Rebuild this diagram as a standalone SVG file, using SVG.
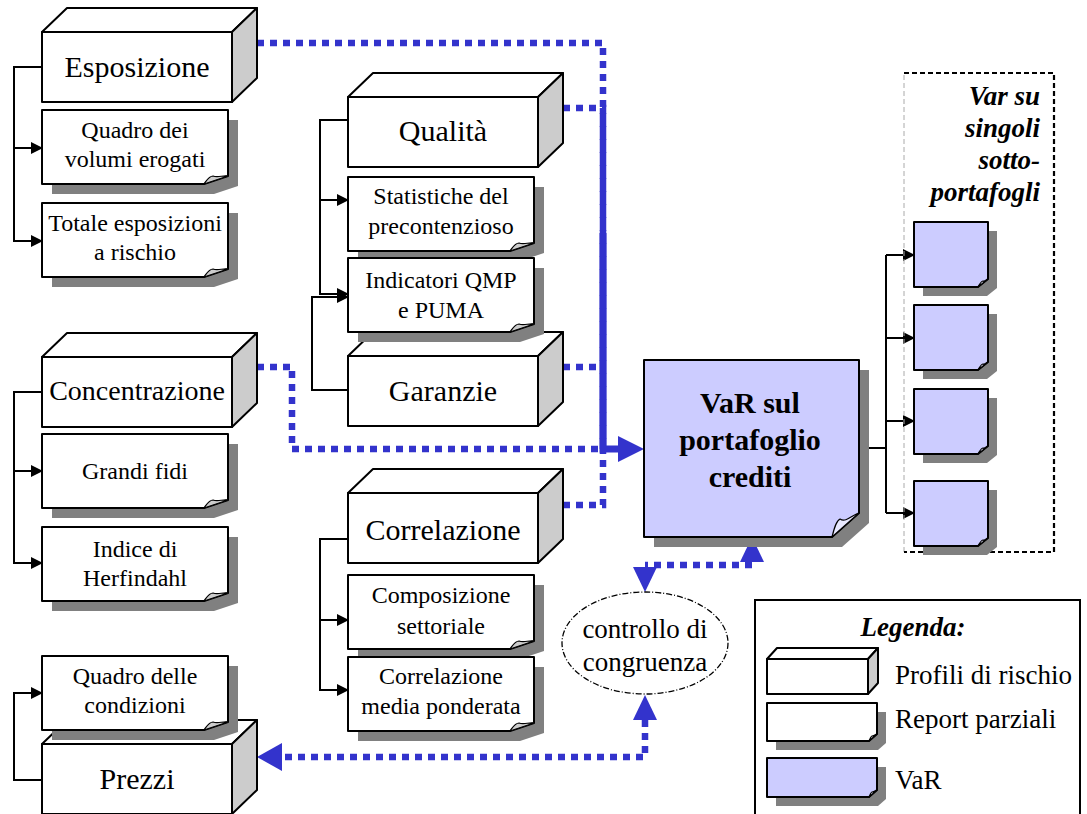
<svg xmlns="http://www.w3.org/2000/svg" width="1087" height="814" viewBox="0 0 1087 814">
  <style>
    text { font-family: "Liberation Serif", "Times New Roman", serif; fill: #000; }
    .h { font-size: 30px; text-anchor: middle; }
    .s { font-size: 24px; text-anchor: middle; }
    .m { font-size: 27px; }
    .bi { font-weight: bold; font-style: italic; }
    .front { fill: #fff; stroke: #000; stroke-width: 2; stroke-linejoin: round; }
    .side { fill: #ccc; stroke: #000; stroke-width: 2; stroke-linejoin: round; }
    .shadow { fill: #808080; }
    .curl { fill: #ccc; stroke: #000; stroke-width: 1.2; stroke-linejoin: round; }
    .var { fill: #ccccff; stroke: #000; stroke-width: 2; stroke-linejoin: round; }
    .varcurl { fill: #e8e8ff; stroke: #000; stroke-width: 1.2; stroke-linejoin: round; }
    .tree { fill: none; stroke: #000; stroke-width: 2; }
    .dot { fill: none; stroke: #3333cc; stroke-width: 6.5; stroke-dasharray: 7 6; }
    .solid { fill: none; stroke: #3333cc; stroke-width: 7; }
    .bhead { fill: #3333cc; }
  </style>
  <defs>
    <marker id="ah" markerWidth="12" markerHeight="12" refX="11" refY="6" orient="auto" markerUnits="userSpaceOnUse">
      <path d="M0,0 L12,6 L0,12 Z" fill="#000"/>
    </marker>
    <!-- risk profile block: front 190x70, depth 25 -->
    <g id="cube">
      <path class="front" d="M0,0 L25,-24 L215,-24 L190,0 Z"/>
      <path class="side" d="M190,0 L215,-24 L215,46 L190,70 Z"/>
      <rect class="front" x="0" y="0" width="190" height="70"/>
    </g>
    <!-- partial report: 186x74 sheet with curled corner and drop shadow -->
    <g id="doc">
      <path class="shadow" d="M10,10 H196 V76 L172,84 H10 Z"/>
      <path class="front" d="M0,0 H186 V66 L162,74 H0 Z"/>
      <path class="curl" d="M162,74 C165,70 167,66 171,66 C176,68 181,65 186,66 Z"/>
    </g>
    <!-- sub-portfolio VaR sheet -->
    <g id="vdoc">
      <path class="shadow" d="M9,9 H83 V66 L73,74 H9 Z"/>
      <path class="var" d="M0,0 H74 V57 L64,65 H0 Z"/>
      <path class="varcurl" d="M64,65 C66,62 67,59 69,59 C71,60 72,58 74,57 Z"/>
    </g>
  </defs>

  <rect width="1087" height="814" fill="#fff"/>

  <!-- blue data flows -->
  <g id="connectors">
    <path class="dot" d="M257,43 H603 V449"/>
    <path class="dot" d="M563,108 H603 V449"/>
    <path class="dot" d="M563,367 H603"/>
    <path class="dot" d="M257,367 H292 V449 H603"/>
    <path class="dot" d="M563,505 H603 V452"/>
    <path class="solid" d="M603,233 V449 H620"/>
    <polygon class="bhead" points="618,436 644,449 618,462"/>

    <path class="dot" d="M752,565 H645"/>
    <polygon class="bhead" points="740,562 752,537 764,562"/>
    <polygon class="bhead" points="633,567 645,592 657,567"/>

    <path class="dot" d="M645,720 V757 H282"/>
    <polygon class="bhead" points="633,720 645,695 657,720"/>
    <polygon class="bhead" points="282,743 257,757 282,771"/>

    <!-- hierarchy lines -->
    <path class="tree" d="M42,67 H14 V241 H42" marker-end="url(#ah)"/>
    <path class="tree" d="M14,148 H42" marker-end="url(#ah)"/>
    <path class="tree" d="M42,392 H14 V563 H42" marker-end="url(#ah)"/>
    <path class="tree" d="M14,471 H42" marker-end="url(#ah)"/>
    <path class="tree" d="M348,120 H320 V294 H348" marker-end="url(#ah)"/>
    <path class="tree" d="M320,200 H348" marker-end="url(#ah)"/>
    <path class="tree" d="M348,390 H312 V297 H348" marker-end="url(#ah)"/>
    <path class="tree" d="M348,539 H320 V690 H348" marker-end="url(#ah)"/>
    <path class="tree" d="M320,620 H348" marker-end="url(#ah)"/>
    <path class="tree" d="M42,780 H14 V693 H42" marker-end="url(#ah)"/>
    <path class="tree" d="M859,448 H886"/>
    <path class="tree" d="M886,255 V513"/>
    <path class="tree" d="M886,255 H914" marker-end="url(#ah)"/>
    <path class="tree" d="M886,338 H914" marker-end="url(#ah)"/>
    <path class="tree" d="M886,421 H914" marker-end="url(#ah)"/>
    <path class="tree" d="M886,513 H914" marker-end="url(#ah)"/>
  </g>

  <!-- Esposizione -->
  <g id="esposizione">
    <use href="#cube" x="42" y="32"/>
    <text class="h" x="137" y="77">Esposizione</text>
  </g>
  <g id="quadro-volumi">
    <use href="#doc" x="42" y="110"/>
    <text class="s" x="135" y="138">Quadro dei</text>
    <text class="s" x="135" y="167">volumi erogati</text>
  </g>
  <g id="totale-esposizioni">
    <use href="#doc" x="42" y="203"/>
    <text class="s" x="135" y="231">Totale esposizioni</text>
    <text class="s" x="135" y="260">a rischio</text>
  </g>

  <!-- Concentrazione -->
  <g id="concentrazione">
    <use href="#cube" x="42" y="357"/>
    <text class="h" x="137" y="400" style="font-size:28px">Concentrazione</text>
  </g>
  <g id="grandi-fidi">
    <use href="#doc" x="42" y="434"/>
    <text class="s" x="135" y="479">Grandi fidi</text>
  </g>
  <g id="herfindahl">
    <use href="#doc" x="42" y="527"/>
    <text class="s" x="135" y="557">Indice di</text>
    <text class="s" x="135" y="586">Herfindahl</text>
  </g>

  <!-- Prezzi (block first, its report sheet overlaps the top face) -->
  <g id="prezzi">
    <use href="#cube" x="42" y="744"/>
    <text class="h" x="137" y="789">Prezzi</text>
  </g>
  <g id="quadro-condizioni">
    <use href="#doc" x="42" y="656"/>
    <text class="s" x="135" y="684">Quadro delle</text>
    <text class="s" x="135" y="713">condizioni</text>
  </g>

  <!-- Qualità -->
  <g id="qualita">
    <use href="#cube" x="348" y="97"/>
    <text class="h" x="443" y="141">Qualità</text>
  </g>
  <g id="garanzie">
    <use href="#cube" x="348" y="356"/>
    <text class="h" x="443" y="401">Garanzie</text>
  </g>
  <g id="statistiche">
    <use href="#doc" x="348" y="177"/>
    <text class="s" x="441" y="204">Statistiche del</text>
    <text class="s" x="441" y="234">precontenzioso</text>
  </g>
  <g id="indicatori">
    <use href="#doc" x="348" y="258"/>
    <text class="s" x="441" y="288">Indicatori QMP</text>
    <text class="s" x="441" y="318">e PUMA</text>
  </g>

  <!-- Correlazione -->
  <g id="correlazione">
    <use href="#cube" x="348" y="493"/>
    <text class="h" x="443" y="540">Correlazione</text>
  </g>
  <g id="composizione">
    <use href="#doc" x="348" y="575"/>
    <text class="s" x="441" y="603">Composizione</text>
    <text class="s" x="441" y="634">settoriale</text>
  </g>
  <g id="correlazione-media">
    <use href="#doc" x="348" y="657"/>
    <text class="s" x="441" y="684">Correlazione</text>
    <text class="s" x="441" y="714">media ponderata</text>
  </g>

  <!-- portfolio VaR -->
  <g id="var-portafoglio">
    <path class="shadow" d="M654,370 H869 V523 L842,547 H654 Z"/>
    <path class="var" d="M644,360 H859 V513 L832,537 H644 Z"/>
    <path class="varcurl" d="M832,537 C834,529 836,521 840,519 C846,523 852,515 859,513 Z"/>
    <text class="h" x="750" y="413" style="font-weight:bold">VaR sul</text>
    <text class="h" x="750" y="450" style="font-weight:bold">portafoglio</text>
    <text class="h" x="750" y="487" style="font-weight:bold">crediti</text>
  </g>

  <!-- sub-portfolios -->
  <g id="sottoportafogli">
    <path d="M904,552 V73" fill="none" stroke="#aaa" stroke-width="1" stroke-dasharray="5 3"/>
    <path d="M904,73 H1054 V552 H904" fill="none" stroke="#000" stroke-width="2.2" stroke-dasharray="5 3"/>
    <text class="m bi" x="1040" y="105" text-anchor="end">Var su</text>
    <text class="m bi" x="1040" y="137" text-anchor="end">singoli</text>
    <text class="m bi" x="1040" y="169" text-anchor="end">sotto-</text>
    <text class="m bi" x="1040" y="201" text-anchor="end">portafogli</text>
  </g>
  <g id="var-1"><use href="#vdoc" x="914" y="222"/></g>
  <g id="var-2"><use href="#vdoc" x="914" y="305"/></g>
  <g id="var-3"><use href="#vdoc" x="914" y="389"/></g>
  <g id="var-4"><use href="#vdoc" x="914" y="481"/></g>

  <!-- consistency check -->
  <g id="controllo">
    <ellipse cx="645" cy="643" rx="83" ry="51" fill="#fff" stroke="#000" stroke-width="1.3" stroke-dasharray="6 2 1 2"/>
    <text class="m" x="645" y="638" text-anchor="middle">controllo di</text>
    <text class="m" x="645" y="671" text-anchor="middle">congruenza</text>
  </g>

  <!-- legend -->
  <g id="legenda">
    <rect x="755" y="600" width="325" height="230" fill="#fff" stroke="#000" stroke-width="2"/>
    <text class="m bi" x="913" y="636" text-anchor="middle">Legenda:</text>
    <path class="front" d="M767,659 L777,648 L878,648 L868,659 Z"/>
    <path class="side" d="M868,659 L878,648 L878,683 L868,694 Z"/>
    <rect class="front" x="767" y="659" width="101" height="35"/>
    <text class="m" x="895" y="684">Profili di rischio</text>
    <path class="shadow" d="M776,712 H886 V743 L878,750 H776 Z"/>
    <path class="front" d="M767,703 H877 V734 L869,741 H767 Z"/>
    <path class="curl" d="M869,741 C870,739 871,736 872,736 C874,736 875,735 877,734 Z"/>
    <text class="m" x="895" y="728">Report parziali</text>
    <path class="shadow" d="M776,767 H886 V799 L878,806 H776 Z"/>
    <path class="var" d="M767,758 H877 V790 L869,797 H767 Z"/>
    <path class="varcurl" d="M869,797 C870,795 871,792 872,792 C874,792 875,791 877,790 Z"/>
    <text class="m" x="895" y="789">VaR</text>
  </g>
</svg>
